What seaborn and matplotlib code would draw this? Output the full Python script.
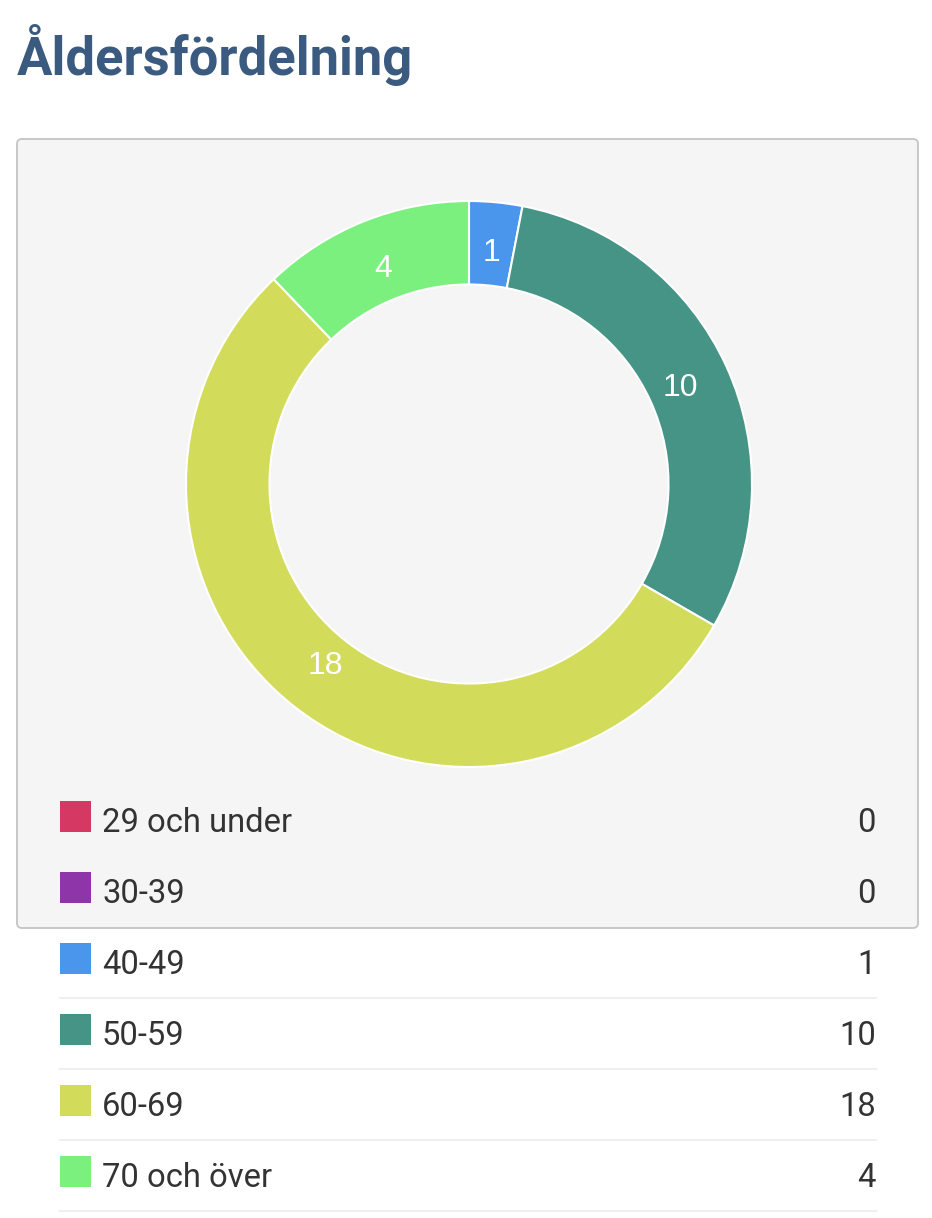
# age distribution donut with a list legend below it

import matplotlib.pyplot as plt
import seaborn as sns
from matplotlib.patches import FancyBboxPatch, Rectangle

groups = ['29 och under', '30-39', '40-49', '50-59', '60-69', '70 och över']
counts = [0, 0, 1, 10, 18, 4]
colours = ['#d63864', '#8e35a9', '#4a96ec', '#459486', '#d3db5a', '#7cf07f']
title = 'Åldersfördelning'

sns.set_theme(style='white')
plt.rcParams['font.family'] = ['Roboto', 'DejaVu Sans']

W, H = 932, 1218
fig = plt.figure(figsize=(W / 100, H / 100), dpi=100)
fig.patch.set_facecolor('white')

# background axes in pixel coordinates
bg = fig.add_axes([0, 0, 1, 1])
bg.set_xlim(0, W)
bg.set_ylim(H, 0)
bg.axis('off')

bg.text(17, 75, title, fontsize=37.8, fontweight='bold', color='#3a5a80', va='baseline')

box = FancyBboxPatch((17, 139), 901, 789, boxstyle='round,pad=0,rounding_size=5',
                     facecolor='#f5f5f5', edgecolor='#c4c4c4', linewidth=1.3, zorder=1)
bg.add_patch(box)

# legend rows
row_h = 71
for i, (g, n, c) in enumerate(zip(groups, counts, colours)):
    base = 832 + row_h * i
    bg.add_patch(Rectangle((60, base - 31), 31, 31, facecolor=c, edgecolor='none', zorder=3))
    bg.text(102, base, g, fontsize=23.6, color='#333333', va='baseline', zorder=3)
    bg.text(876, base, str(n), fontsize=23.6, color='#333333', va='baseline', ha='right', zorder=3)
    bg.plot([60, 876], [base + 24, base + 24], color='#efefef', linewidth=1.5, zorder=0.5)

# donut
cx, cy, r = 469, 484, 283
ax = fig.add_axes([(cx - r) / W, (H - cy - r) / H, 2 * r / W, 2 * r / H])
total = sum(counts)


def show_count(pct):
    v = round(pct * total / 100)
    return str(v) if v > 0 else ''


wedges, _, autotexts = ax.pie(counts, colors=colours, startangle=90, counterclock=False,
                              radius=1, autopct=show_count, pctdistance=0.82,
                              wedgeprops=dict(width=0.295, edgecolor='white', linewidth=1.5),
                              textprops=dict(color='white', fontsize=23, family=['Liberation Sans', 'DejaVu Sans']))
ax.set_xlim(-1, 1)
ax.set_ylim(-1, 1)
ax.set_aspect('equal')
ax.axis('off')
ax.patch.set_alpha(0)

fig.savefig('out.png', dpi=100)
